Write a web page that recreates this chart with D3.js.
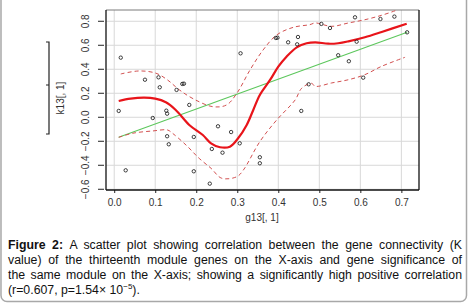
<!DOCTYPE html>
<html><head><meta charset="utf-8">
<script src="https://cdn.jsdelivr.net/npm/d3@7"></script>
<style>
html,body{margin:0;padding:0;background:#fff;}
svg{display:block;}
</style></head>
<body>
<svg id="c" width="469" height="305"></svg>
<script>
// ---- data ----
const xTicks = [0.0, 0.1, 0.2, 0.3, 0.4, 0.5, 0.6, 0.7];
const yTicks = [-0.6, -0.4, -0.2, 0.0, 0.2, 0.4, 0.6, 0.8];
const pointsX = [0.016,0.075,0.108,0.111,0.152,0.166,0.170,0.011,0.094,0.127,0.129,0.183,0.129,0.133,0.194,0.028,0.194,0.233,
  0.308,0.394,0.398,0.424,0.448,0.446,0.474,0.253,0.285,0.306,0.238,0.264,0.355,0.355,0.456,
  0.505,0.526,0.587,0.649,0.683,0.591,0.714,0.546,0.572,0.607];
const pointsY = [0.497,0.313,0.333,0.250,0.228,0.278,0.280,0.053,-0.006,0.055,0.030,0.103,-0.158,-0.225,-0.164,-0.442,-0.450,-0.553,
  0.533,0.661,0.663,0.625,0.669,0.608,0.275,-0.075,-0.123,-0.217,-0.264,-0.295,-0.333,-0.383,0.053,
  0.778,0.744,0.833,0.819,0.839,0.630,0.708,0.517,0.467,0.330];
const fitX = [0.011, 0.714];
const fitY = [-0.167, 0.708];
const loessX = [0.011,0.040,0.073,0.100,0.126,0.150,0.183,0.216,0.236,0.258,0.282,0.302,0.323,0.339,0.355,0.380,0.400,0.420,0.445,0.469,0.490,0.522,0.546,0.571,0.611,0.652,0.713];
const loessY = [0.136,0.155,0.163,0.155,0.125,0.061,-0.064,-0.148,-0.217,-0.250,-0.245,-0.175,-0.064,0.061,0.186,0.311,0.422,0.505,0.583,0.617,0.625,0.613,0.617,0.633,0.667,0.711,0.780];
const upperX = [0.016,0.061,0.102,0.130,0.159,0.195,0.241,0.274,0.299,0.331,0.363,0.396,0.437,0.477,0.490,0.530,0.571,0.611,0.652,0.690];
const upperY = [0.361,0.386,0.367,0.311,0.228,0.150,0.088,0.103,0.200,0.394,0.561,0.686,0.750,0.772,0.786,0.758,0.786,0.813,0.850,0.894];
const lowerX = [0.011,0.045,0.094,0.130,0.142,0.175,0.207,0.236,0.262,0.299,0.315,0.355,0.396,0.441,0.457,0.481,0.490,0.530,0.571,0.611,0.652,0.709];
const lowerY = [-0.167,-0.133,-0.114,-0.106,-0.133,-0.231,-0.342,-0.425,-0.508,-0.495,-0.439,-0.203,-0.023,0.144,0.242,0.283,0.258,0.286,0.313,0.355,0.425,0.500];
const xLabel = "g13[, 1]";
const yLabel = "k13[, 1]";
const captionLines = [
  "A scatter plot showing correlation between the gene connectivity (K",
  "value) of the thirteenth module genes on the X-axis and gene significance of",
  "the same module on the X-axis; showing a significantly high positive correlation"
];

// ---- chart ----
const svg = d3.select("#c");
const L = 106, R = 419, T = 10, B = 190;
const x = d3.scaleLinear().domain([-0.020, 0.743]).range([L, R]);
const y = d3.scaleLinear().domain([-0.606, 0.894]).range([B, T]);

// frame
svg.append("rect").attr("x", 1).attr("y", -8).attr("width", 465.5).attr("height", 309.5)
  .attr("rx", 6).attr("fill", "none").attr("stroke", "#a8a8a8").attr("stroke-width", 1.5);

// grid
const grid = svg.append("g");
grid.selectAll("line.v").data(xTicks).join("line")
  .attr("x1", d => x(d)).attr("x2", d => x(d)).attr("y1", T).attr("y2", B)
  .attr("stroke", "#d8d8d8").attr("stroke-width", 1);
grid.selectAll("line.h").data(yTicks).join("line")
  .attr("x1", L).attr("x2", R).attr("y1", d => y(d)).attr("y2", d => y(d))
  .attr("stroke", "#d8d8d8").attr("stroke-width", 1);

// axes
const xAxis = svg.append("g").attr("transform", `translate(0,${B})`)
  .call(d3.axisBottom(x).tickValues(xTicks).tickFormat(d3.format(".1f")).tickSize(3).tickPadding(6));
const yAxis = svg.append("g").attr("transform", `translate(${L - 1},0)`)
  .call(d3.axisLeft(y).tickValues(yTicks).tickFormat(d3.format(".1f")).tickSize(7).tickPadding(8));
[xAxis, yAxis].forEach(g => {
  g.select(".domain").remove();
  g.selectAll("line").attr("stroke", "#222");
  g.selectAll("text").attr("fill", "#333").style("font-family", "'Liberation Sans', Arial, sans-serif").style("font-size", "10px");
});
yAxis.selectAll(".tick").attr("transform", null);
yAxis.selectAll(".tick line").attr("y1", d => y(d)).attr("y2", d => y(d)).attr("x1", -7).attr("x2", -1);
yAxis.selectAll(".tick text").attr("text-anchor", "middle").attr("dy", null)
  .attr("transform", "rotate(-90)").attr("x", d => -y(d)).attr("y", -16);

// box
svg.append("line").attr("x1", L).attr("x2", R).attr("y1", T).attr("y2", T).attr("stroke", "#7a7a7a");
svg.append("line").attr("x1", R).attr("x2", R).attr("y1", T).attr("y2", B).attr("stroke", "#111").attr("stroke-width", 1.3);
svg.append("line").attr("x1", L).attr("x2", L).attr("y1", T).attr("y2", B).attr("stroke", "#111").attr("stroke-width", 1.3);
svg.append("line").attr("x1", L).attr("x2", R).attr("y1", B).attr("y2", B).attr("stroke", "#111").attr("stroke-width", 1.3);

// clip
svg.append("clipPath").attr("id", "clip").append("rect").attr("x", L).attr("y", T).attr("width", R - L).attr("height", B - T);
const plot = svg.append("g").attr("clip-path", "url(#clip)");

const line = d3.line().x(d => x(d[0])).y(d => y(d[1])).curve(d3.curveCatmullRom.alpha(0.5));
const zip = (a, b) => a.map((v, i) => [v, b[i]]);

// fit line
plot.append("path").datum(zip(fitX, fitY)).attr("d", d3.line().x(d => x(d[0])).y(d => y(d[1])))
  .attr("fill", "none").attr("stroke", "#5cc75c").attr("stroke-width", 1.1);
// dashed bands
[zip(upperX, upperY), zip(lowerX, lowerY)].forEach(dat => {
  plot.append("path").datum(dat).attr("d", line)
    .attr("fill", "none").attr("stroke", "#d25050").attr("stroke-width", 1)
    .attr("stroke-dasharray", "4,3");
});
// loess
plot.append("path").datum(zip(loessX, loessY)).attr("d", line)
  .attr("fill", "none").attr("stroke", "#e8141a").attr("stroke-width", 2.2);

// points
plot.selectAll("circle").data(zip(pointsX, pointsY)).join("circle")
  .attr("cx", d => x(d[0])).attr("cy", d => y(d[1])).attr("r", 1.7)
  .attr("fill", "none").attr("stroke", "#111").attr("stroke-width", 0.8);

// axis labels
svg.append("text").attr("x", 262).attr("y", 221).attr("text-anchor", "middle")
  .style("font-family", "'Liberation Sans', Arial, sans-serif").style("font-size", "10px").attr("fill", "#333").text(xLabel);
svg.append("text").attr("transform", "translate(64,98) rotate(-90)").attr("text-anchor", "middle")
  .style("font-family", "'Liberation Sans', Arial, sans-serif").style("font-size", "10px").attr("fill", "#333").text(yLabel);
// bracket
svg.append("path").attr("d", "M46,42 H49 V134 H46 M49,85 H46").attr("fill", "none").attr("stroke", "#222").attr("stroke-width", 1.2);

// caption
const capX = 8, capR = 462, capFont = "'Liberation Sans', Arial, sans-serif";
const baselines = [248.5, 263.5, 278.7, 294];
captionLines.forEach((txt, i) => {
  const t = svg.append("text").attr("x", capX).attr("y", baselines[i])
    .style("font-family", capFont).style("font-size", "12.3px").attr("fill", "#111");
  if (i === 0) t.append("tspan").style("font-weight", "bold").text("Figure 2: ");
  t.append("tspan").text(txt);
  const w = t.node().getComputedTextLength();
  const spaces = (i === 0 ? "Figure 2: " + txt : txt).split(" ").length - 1;
  t.style("word-spacing", ((capR - capX - w) / spaces) + "px");
});
const last = svg.append("text").attr("x", capX).attr("y", baselines[3])
  .style("font-family", capFont).style("font-size", "12.3px").attr("fill", "#111");
last.append("tspan").text("(r=0.607, p=1.54× 10");
last.append("tspan").attr("dy", -5).style("font-size", "8px").text("−5");
last.append("tspan").attr("dy", 5).text(").");
</script>
</body></html>
